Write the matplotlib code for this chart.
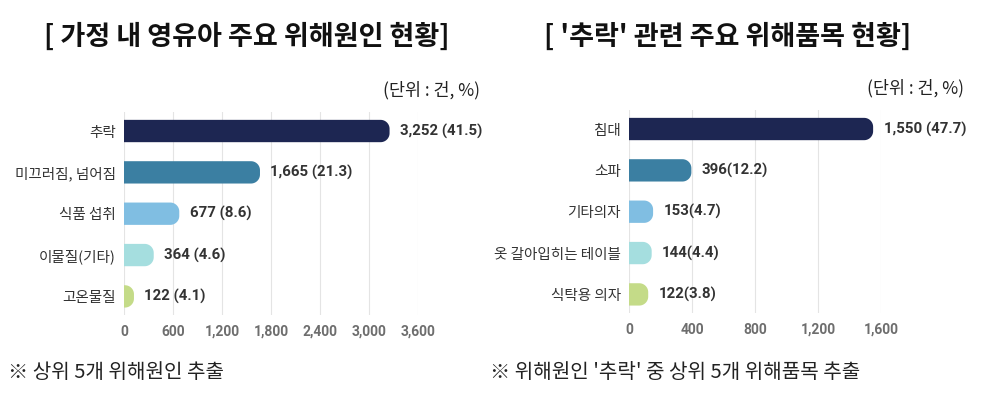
import numpy as np
import matplotlib
matplotlib.use('Agg')
import matplotlib.pyplot as plt
from matplotlib.patches import Polygon

plt.rcParams['font.family'] = ['Noto Sans CJK KR', 'DejaVu Sans']

# left chart: main hazard causes
cause_labels = ['추락', '미끄러짐, 넘어짐', '식품 섭취', '이물질(기타)', '고온물질']
cause_counts = [3252, 1665, 677, 364, 122]
cause_pcts = [41.5, 21.3, 8.6, 4.6, 4.1]
cause_ticks = [0, 600, 1200, 1800, 2400, 3000, 3600]

# right chart: items related to falls
item_labels = ['침대', '소파', '기타의자', '옷 갈아입히는 테이블', '식탁용 의자']
item_counts = [1550, 396, 153, 144, 122]
item_pcts = [47.7, 12.2, 4.7, 4.4, 3.8]
item_ticks = [0, 400, 800, 1200, 1600]

bar_colors = ['#1d2652', '#3b7fa2', '#80bee2', '#a5dedf', '#c4db88']

W, H = 988, 396
fig = plt.figure(figsize=(W / 100, H / 100), dpi=100)


def px_axes(left, top, right, bottom):
    return fig.add_axes([left / W, 1 - bottom / H, (right - left) / W, (bottom - top) / H])


def rounded_barh(ax, y, width, height, color, rx, ry):
    rx = min(rx, width)
    ry = min(ry, height / 2)
    t = np.linspace(0, np.pi / 2, 16)
    y0, y1 = y - height / 2, y + height / 2
    pts = [(0, y0), (width - rx, y0)]
    pts += [(width - rx + rx * np.sin(a), y0 + ry - ry * np.cos(a)) for a in t]
    pts += [(width - rx + rx * np.cos(a), y1 - ry + ry * np.sin(a)) for a in t]
    pts += [(width - rx, y1), (0, y1)]
    ax.add_patch(Polygon(pts, closed=True, facecolor=color, edgecolor='none', zorder=2))


def draw_chart(ax, labels, counts, pcts, ticks, seps):
    n = len(labels)
    ypos = np.arange(n)
    ax.set_xlim(ticks[0], ticks[-1])
    ax.set_ylim(n - 0.55, -0.46)
    # corner radius ~9px converted to data units
    bb = ax.get_position()
    ppx = bb.width * W / (ticks[-1] - ticks[0])
    ppy = bb.height * H / (n - 0.55 + 0.46)
    bar_h = 0.54
    for i in range(n):
        rounded_barh(ax, ypos[i], counts[i], bar_h, bar_colors[i], 9 / ppx, 9 / ppy)
        ax.annotate('{:,}{}({})'.format(counts[i], seps[i], pcts[i]), (counts[i], ypos[i]),
                    xytext=(7.5, 0), textcoords='offset points', va='center', ha='left',
                    fontsize=10.8, fontweight='bold', color='#333333',
                    family=['Roboto', 'DejaVu Sans'])
    ax.set_yticks(ypos)
    ax.set_yticklabels(labels, fontsize=10.5, color='#333333')
    ax.set_xticks(ticks)
    ax.set_xticklabels(['{:,}'.format(t) for t in ticks], fontsize=10, fontweight='bold',
                       color='#6e6e6e', family=['Roboto', 'DejaVu Sans'])
    ax.tick_params(axis='y', length=0, pad=6)
    ax.tick_params(axis='x', length=0, pad=7)
    for s in ax.spines.values():
        s.set_visible(False)
    ax.set_axisbelow(True)
    ax.grid(axis='x', color='#e4e4e4', lw=0.8)


ax1 = px_axes(124, 112, 418, 315)
draw_chart(ax1, cause_labels, cause_counts, cause_pcts, cause_ticks, [' '] * 5)

ax2 = px_axes(629, 110, 881, 313)
draw_chart(ax2, item_labels, item_counts, item_pcts, item_ticks, [' ', '', '', '', ''])

# titles
fig.text(247 / W, 1 - 37 / H, '[ 가정 내 영유아 주요 위해원인 현황]', ha='center', va='center',
         fontsize=19.5, fontweight='bold', color='#111111')
fig.text(728 / W, 1 - 37 / H, "[ '추락' 관련 주요 위해품목 현황]", ha='center', va='center',
         fontsize=19.5, fontweight='bold', color='#111111')

# unit labels
fig.text(480 / W, 1 - 90 / H, '(단위 : 건, %)', ha='right', va='center', fontsize=12.5, color='#222222')
fig.text(964 / W, 1 - 88 / H, '(단위 : 건, %)', ha='right', va='center', fontsize=12.5, color='#222222')

# footnotes
fig.text(8 / W, 1 - 372 / H, '※ 상위 5개 위해원인 추출', ha='left', va='center', fontsize=14.5, color='#222222')
fig.text(490 / W, 1 - 372 / H, "※ 위해원인 '추락' 중 상위 5개 위해품목 추출", ha='left', va='center',
         fontsize=14.5, color='#222222')

plt.savefig('out.png', dpi=100)
